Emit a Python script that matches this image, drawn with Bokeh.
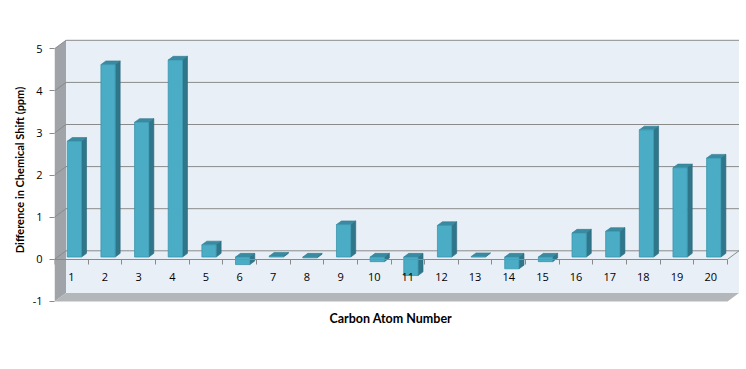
import numpy as np
from bokeh.plotting import figure
from bokeh.models import LinearAxis, FixedTicker, Range1d, Title
from bokeh.embed import file_html
from bokeh.resources import INLINE

# ---- data ----
categories = list(range(1, 21))
values = [2.75, 4.57, 3.20, 4.68, 0.29, -0.18, 0.02, -0.02, 0.77, -0.11,
          -0.44, 0.75, 0.01, -0.28, -0.11, 0.57, 0.61, 3.02, 2.12, 2.35]
y_ticks = [-1, 0, 1, 2, 3, 4, 5]
x_title = "Carbon Atom Number"
y_title = "Difference in Chemical Shift (ppm)"

# ---- layout constants (pixels) ----
W, H = 746, 369
L, R, T, B = 54, 741, 36, 303
PX_X, PX_Y = 33.65, 42.1
ZERO_PX = 258.8
DX = 11.5 / PX_X          # depth offset in category units
DY = 8.5 / PX_Y           # depth offset in value units
BAR_W = 14.3 / PX_X
BAR_F = 0.27              # bar front position in depth
BAR_D = 0.43              # bar depth fraction

FONT = "Open Sans"
TFONT = "Lato"

xmin, xmax = 0.5, len(categories) + 0.5
ymin, ymax = y_ticks[0], y_ticks[-1]

x_range = Range1d(xmin, xmin + (R - L) / PX_X)
y_range = Range1d(-(B - ZERO_PX) / PX_Y, (ZERO_PX - T) / PX_Y)

p = figure(width=W, height=H, x_range=x_range, y_range=y_range,
           x_axis_type=None, output_backend="svg", toolbar_location=None,
           min_border_left=L, min_border_right=W - R,
           min_border_top=T, min_border_bottom=H - B)
p.outline_line_color = None
p.grid.grid_line_color = None
p.background_fill_color = "white"
p.border_fill_color = "white"

# back wall, left wall, floor
p.quad(left=[xmin + DX], right=[xmax + DX], bottom=[ymin + DY], top=[ymax + DY],
       fill_color="#e8eff6", line_color=None)
p.patch([xmin, xmin, xmin + DX, xmin + DX], [ymin, ymax, ymax + DY, ymin + DY],
        fill_color="#a0a4a8", line_color=None)
p.patch([xmin, xmax, xmax + DX, xmin + DX], [ymin, ymin, ymin + DY, ymin + DY],
        fill_color="#b4b7ba", line_color=None)

# gridlines on back wall and left wall
gy = [t for t in y_ticks if t > ymin]
GRID = "#8a8a8a"
p.segment(x0=[xmin + DX] * len(gy), y0=[t + DY for t in gy],
          x1=[xmax + DX] * len(gy), y1=[t + DY for t in gy],
          line_color=GRID, line_width=1)
p.segment(x0=[xmin] * len(gy), y0=gy, x1=[xmin + DX] * len(gy), y1=[t + DY for t in gy],
          line_color=GRID, line_width=1)
# zero plane right edge
p.segment(x0=[xmax], y0=[0], x1=[xmax + DX], y1=[DY], line_color=GRID, line_width=1)

# bars
FRONT, SIDE, TOP = "#4bacc6", "#2f768a", "#3a8ba1"
cx = np.array(categories, dtype=float) + BAR_F * DX
oy = BAR_F * DY
v = np.array(values)
lo = np.minimum(v, 0) + oy
hi = np.maximum(v, 0) + oy
xl = cx - BAR_W / 2
xr = cx + BAR_W / 2
bdx, bdy = BAR_D * DX, BAR_D * DY

side_xs = [[a, a, a + bdx, a + bdx] for a in xr]
side_ys = [[b, c, c + bdy, b + bdy] for b, c in zip(lo, hi)]
top_xs = [[a, b, b + bdx, a + bdx] for a, b in zip(xl, xr)]
top_ys = [[c, c, c + bdy, c + bdy] for c in hi]
p.patches(side_xs, side_ys, fill_color=SIDE, line_color="#286677", line_width=0.6)
p.patches(top_xs, top_ys, fill_color=TOP, line_color="#2e7b90", line_width=0.6)
p.quad(left=xl, right=xr, bottom=lo, top=hi, fill_color=FRONT,
       line_color="#3a95ad", line_width=0.8)

# y axis
ya = p.yaxis[0]
ya.ticker = FixedTicker(ticks=y_ticks, minor_ticks=[])
ya.bounds = (ymin, ymax)
ya.axis_line_color = None
ya.major_tick_line_color = GRID
ya.major_tick_out = 5
ya.major_tick_in = 0
ya.minor_tick_line_color = None
ya.major_label_standoff = 7
ya.major_label_text_font = FONT
ya.major_label_text_font_size = "11px"
ya.major_label_text_color = "black"
ya.major_label_overrides = {-1: "-1"}
ya.axis_label = y_title
ya.axis_label_text_font = TFONT
ya.axis_label_text_font_size = "11px"
ya.axis_label_text_font_style = "bold"
ya.axis_label_text_color = "black"
ya.axis_label_standoff = 4

# category axis on the zero plane
xa = LinearAxis(fixed_location=0)
xa.ticker = FixedTicker(ticks=categories,
                        minor_ticks=[c + 0.5 for c in [0] + categories])
xa.bounds = (xmin, xmax)
xa.axis_line_color = GRID
xa.major_tick_line_color = None
xa.major_tick_out = 0
xa.major_tick_in = 0
xa.minor_tick_line_color = GRID
xa.minor_tick_out = 5
xa.minor_tick_in = 0
xa.major_label_standoff = 9
xa.major_label_text_font = FONT
xa.major_label_text_font_size = "11px"
xa.major_label_text_color = "black"
p.add_layout(xa, "below")

# x axis title
p.add_layout(Title(text=x_title, align="left", offset=329 - L,
                   text_font=TFONT, text_font_size="12.5px",
                   text_font_style="bold", text_color="black"), "below")

open("out.html", "w").write(file_html(p, INLINE))
